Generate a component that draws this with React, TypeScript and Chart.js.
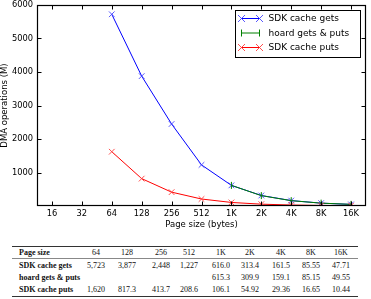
import React, { useEffect, useRef } from 'react';
import { Chart, registerables } from 'chart.js';

Chart.register(...registerables);

const pageSizes = ['16', '32', '64', '128', '256', '512', '1K', '2K', '4K', '8K', '16K'];
const sdkCacheGets = [null, null, 5723, 3877, 2448, 1227, 616.0, 313.4, 161.5, 85.55, 47.71];
const hoardGetsPuts = [null, null, null, null, null, null, 615.3, 309.9, 159.1, 85.15, 49.55];
const sdkCachePuts = [null, null, 1620, 817.3, 413.7, 208.6, 106.1, 54.92, 29.36, 16.65, 10.44];
const yTickValues = [1000, 2000, 3000, 4000, 5000, 6000];

const tableHeader = ['64', '128', '256', '512', '1K', '2K', '4K', '8K', '16K'];
const tableGets = ['5,723', '3,877', '2,448', '1,227', '616.0', '313.4', '161.5', '85.55', '47.71'];
const tableHoard = ['', '', '', '', '615.3', '309.9', '159.1', '85.15', '49.55'];
const tablePuts = ['1,620', '817.3', '413.7', '208.6', '106.1', '54.92', '29.36', '16.65', '10.44'];
const tableRowLabels = ['SDK cache gets', 'hoard gets & puts', 'SDK cache puts'];

const colCenters = [96, 127, 161, 189, 221, 250, 281, 311, 341];
const rowCenters = [253, 265.5, 277.5, 289.5];

const FONT = 'DejaVu Sans';

const framePlugin = {
  id: 'frameTicks',
  afterDatasetsDraw(chart: any) {
    const { ctx, chartArea: a, scales } = chart;
    const L = Math.round(a.left) + 0.5;
    const R = Math.round(a.right) - 0.5;
    const T = Math.round(a.top) + 0.5;
    const B = Math.round(a.bottom) - 0.5;
    ctx.save();
    ctx.strokeStyle = '#000';
    ctx.lineWidth = 1;
    ctx.beginPath();
    const tl = 4;
    const xs = scales.x;
    xs.ticks.forEach((_t: any, i: number) => {
      const px = Math.round(xs.getPixelForTick(i)) + 0.5;
      ctx.moveTo(px, B);
      ctx.lineTo(px, B - tl);
      ctx.moveTo(px, T);
      ctx.lineTo(px, T + tl);
    });
    const ys = scales.y;
    ys.ticks.forEach((t: any) => {
      const py = Math.round(ys.getPixelForValue(t.value)) + 0.5;
      ctx.moveTo(L, py);
      ctx.lineTo(L + tl, py);
      ctx.moveTo(R, py);
      ctx.lineTo(R - tl, py);
    });
    ctx.stroke();
    ctx.lineWidth = 1.2;
    ctx.strokeRect(L, T, R - L, B - T);
    ctx.restore();
  },
};

function drawMarker(ctx: any, style: string, x: number, y: number, r: number) {
  ctx.beginPath();
  if (style === 'crossRot') {
    ctx.moveTo(x - r, y - r);
    ctx.lineTo(x + r, y + r);
    ctx.moveTo(x - r, y + r);
    ctx.lineTo(x + r, y - r);
  } else {
    ctx.moveTo(x, y - r);
    ctx.lineTo(x, y + r);
  }
  ctx.stroke();
}

const legendPlugin = {
  id: 'boxLegend',
  afterDraw(chart: any) {
    const { ctx, chartArea: a } = chart;
    const boxR = Math.round(a.right) - 5.5;
    const boxL = boxR - 125;
    const boxT = Math.round(a.top) + 5.5;
    const boxH = 47;
    ctx.save();
    ctx.fillStyle = '#fff';
    ctx.fillRect(boxL, boxT, boxR - boxL, boxH);
    ctx.strokeStyle = '#000';
    ctx.lineWidth = 1;
    ctx.strokeRect(boxL, boxT, boxR - boxL, boxH);
    ctx.font = `9px "${FONT}"`;
    ctx.textBaseline = 'middle';
    ctx.textAlign = 'left';
    chart.data.datasets.forEach((ds: any, i: number) => {
      const y = boxT + 8 + i * 14.5;
      const x0 = boxL + 6;
      const x1 = boxL + 24;
      ctx.strokeStyle = ds.borderColor;
      ctx.lineWidth = 1;
      ctx.beginPath();
      ctx.moveTo(x0, y);
      ctx.lineTo(x1, y);
      ctx.stroke();
      ctx.strokeStyle = ds.pointBorderColor;
      drawMarker(ctx, ds.markerKind, x0, y, 3.5);
      drawMarker(ctx, ds.markerKind, x1, y, 3.5);
      ctx.fillStyle = '#000';
      ctx.fillText(ds.label, boxL + 33, y + 0.5);
    });
    ctx.restore();
  },
};

function ChartCanvas() {
  const ref = useRef<HTMLCanvasElement | null>(null);
  useEffect(() => {
    if (!ref.current) return;
    const tickFont = { family: FONT, size: 8.3, lineHeight: 1 };
    const chart = new Chart(ref.current, {
      type: 'line',
      data: {
        labels: pageSizes,
        datasets: [
          {
            label: 'SDK cache gets',
            data: sdkCacheGets,
            borderColor: 'rgb(0,0,255)',
            pointBorderColor: 'rgba(70,70,255,0.9)',
            backgroundColor: 'rgb(0,0,255)',
            borderWidth: 1,
            pointStyle: 'crossRot',
            pointRadius: 4,
            pointBorderWidth: 1,
            tension: 0,
            order: 3,
            markerKind: 'crossRot',
          } as any,
          {
            label: 'hoard gets & puts',
            data: hoardGetsPuts,
            borderColor: 'rgb(0,128,0)',
            pointBorderColor: 'rgb(0,128,0)',
            backgroundColor: 'rgb(0,128,0)',
            borderWidth: 1,
            pointStyle: 'line',
            pointRotation: 90,
            pointRadius: 3.5,
            pointBorderWidth: 1,
            tension: 0,
            order: 2,
            markerKind: 'line',
          } as any,
          {
            label: 'SDK cache puts',
            data: sdkCachePuts,
            borderColor: 'rgb(255,0,0)',
            pointBorderColor: 'rgba(255,60,60,0.9)',
            backgroundColor: 'rgb(255,0,0)',
            borderWidth: 1,
            pointStyle: 'crossRot',
            pointRadius: 4,
            pointBorderWidth: 1,
            tension: 0,
            order: 1,
            markerKind: 'crossRot',
          } as any,
        ],
      },
      options: {
        animation: false,
        responsive: false,
        devicePixelRatio: 1,
        spanGaps: false,
        layout: { padding: { left: 0, right: 2, top: 4, bottom: 0 } },
        plugins: { legend: { display: false }, tooltip: { enabled: false } },
        scales: {
          x: {
            type: 'category',
            offset: true,
            grid: { display: false, drawTicks: false },
            border: { display: false },
            ticks: { font: tickFont, color: '#000', padding: 4, maxRotation: 0, autoSkip: false },
            title: {
              display: true,
              text: 'Page size (bytes)',
              font: { family: FONT, size: 8.5, lineHeight: 1.2 },
              color: '#000',
              padding: 0,
            },
            afterFit: (s: any) => {
              s.height = 24;
              s.paddingLeft = 0;
              s.paddingRight = 0;
            },
          },
          y: {
            type: 'linear',
            min: 0,
            max: 6000,
            afterBuildTicks: (s: any) => {
              s.ticks = yTickValues.map((v) => ({ value: v }));
            },
            grid: { display: false, drawTicks: false },
            border: { display: false },
            ticks: { font: tickFont, color: '#000', padding: 4, callback: (v: any) => String(v) },
            title: {
              display: true,
              text: 'DMA operations (M)',
              font: { family: FONT, size: 8.5, lineHeight: 1.2 },
              color: '#000',
              padding: 0,
            },
            afterFit: (s: any) => {
              s.width = 37;
              s.paddingTop = 0;
              s.paddingBottom = 0;
            },
          },
        },
      },
      plugins: [framePlugin, legendPlugin],
    });
    return () => chart.destroy();
  }, []);
  return <canvas ref={ref} width={371} height={230} style={{ position: 'absolute', left: 0, top: 0 }} />;
}

const CELL_H = 10;
const cellBase: React.CSSProperties = {
  position: 'absolute',
  fontFamily: '"Liberation Serif", serif',
  fontSize: '8px',
  color: '#111',
  whiteSpace: 'nowrap',
  lineHeight: `${CELL_H}px`,
  height: CELL_H,
};

function Table() {
  const rows = [tableHeader, tableGets, tableHoard, tablePuts];
  const labels = ['Page size', ...tableRowLabels];
  const items: React.ReactNode[] = [];
  rows.forEach((row, ri) => {
    const top = Math.round(rowCenters[ri] - CELL_H / 2);
    items.push(
      <div key={`l${ri}`} style={{ ...cellBase, left: 19, top, fontWeight: 'bold' }}>
        {labels[ri]}
      </div>
    );
    row.forEach((v, ci) => {
      if (!v) return;
      items.push(
        <div
          key={`c${ri}-${ci}`}
          style={{ ...cellBase, left: colCenters[ci] - 20, width: 40, top, textAlign: 'center' }}
        >
          {v}
        </div>
      );
    });
  });
  const rule = (top: number, h: number, c: string) => (
    <div style={{ position: 'absolute', left: 12, width: 346, top, height: h, background: c }} />
  );
  return (
    <>
      {rule(246, 1, '#333')}
      {rule(258, 1, '#888')}
      {rule(295.5, 1, '#333')}
      {items}
    </>
  );
}

export default function App() {
  return (
    <div style={{ position: 'absolute', left: 0, top: 0, width: 371, height: 299, background: '#fff', overflow: 'hidden' }}>
      <ChartCanvas />
      <Table />
    </div>
  );
}
